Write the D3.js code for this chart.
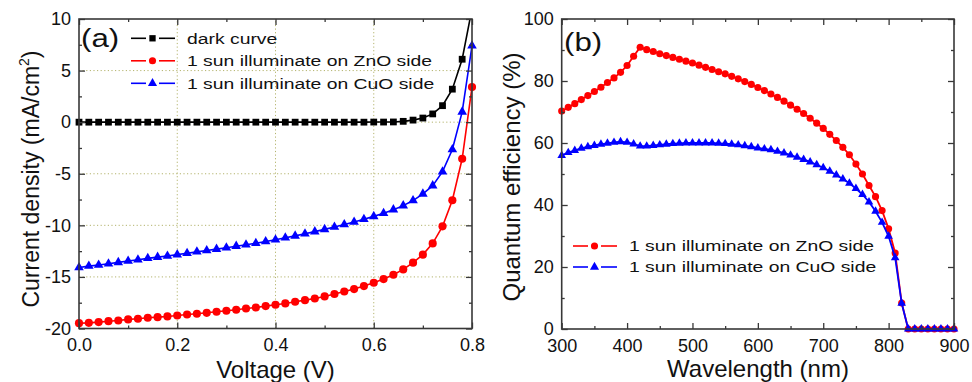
<!DOCTYPE html>
<html><head><meta charset="utf-8">
<script src="https://cdn.jsdelivr.net/npm/d3@7"></script>
<style>
body{margin:0;background:#fff}
svg{display:block;font-family:"Liberation Sans",Arial,sans-serif}
</style>
</head><body><svg id="c" width="972" height="382"></svg>
<script>
// ---------- Panel (a) data: J-V curves ----------
const voltage = [0.00,0.02,0.04,0.06,0.08,0.10,0.12,0.14,0.16,0.18,0.20,0.22,0.24,0.26,0.28,0.30,0.32,0.34,0.36,0.38,0.40,
  0.42,0.44,0.46,0.48,0.50,0.52,0.54,0.56,0.58,0.60,0.62,0.64,0.66,0.68,0.70,0.72,0.74,0.76,0.78,0.80];
const darkCurrent = [0,0,0,0,0,0,0,0,0,0,0,0,0,0,0,0,0,0,0,0,0,
  0,0,0,0,0,0,0,0,0,0.01,0.01,0.02,0.08,0.2,0.4,0.8,1.6,3.2,6.1,11.0];
const znoCurrent = [-19.48,-19.45,-19.38,-19.29,-19.22,-19.12,-19.06,-18.96,-18.90,-18.83,-18.74,-18.64,-18.57,-18.48,-18.38,-18.28,
  -18.18,-18.06,-17.96,-17.83,-17.70,-17.57,-17.41,-17.25,-17.09,-16.89,-16.66,-16.41,-16.18,-15.89,-15.56,-15.21,-14.79,-14.27,
  -13.62,-12.84,-11.75,-10.10,-7.57,-3.55,3.40];
const cuoCurrent = [-14.08,-13.95,-13.84,-13.72,-13.59,-13.46,-13.33,-13.20,-13.08,-12.97,-12.84,-12.70,-12.57,-12.44,-12.31,-12.17,
  -12.02,-11.88,-11.73,-11.57,-11.40,-11.21,-11.02,-10.82,-10.61,-10.39,-10.16,-9.92,-9.67,-9.41,-9.13,-8.83,-8.48,-8.09,
  -7.60,-6.95,-6.15,-4.80,-2.65,1.00,7.40];
const voltageTicks = [0,0.2,0.4,0.6,0.8];
const voltageMinor = [0.1,0.3,0.5,0.7];
const currentTicks = [-20,-15,-10,-5,0,5,10];
const currentMinor = [-17.5,-12.5,-7.5,-2.5,2.5,7.5];
const legendA = ["dark curve","1 sun illuminate on ZnO side","1 sun illuminate on CuO side"];

// ---------- Panel (b) data: quantum efficiency ----------
const wavelength = [300,310,320,330,340,350,360,370,380,390,400,410,420,430,440,450,460,470,480,490,500,510,520,530,540,550,
  560,570,580,590,600,610,620,630,640,650,660,670,680,690,700,710,720,730,740,750,760,770,780,790,800,810,820,830,840,850,
  860,870,880,890,900];
const znoQE = [70.3,71.5,72.7,74.0,75.3,76.6,78.0,79.5,81.0,82.8,85.0,88.0,90.9,90.1,89.5,88.8,88.2,87.6,87.0,86.4,
  85.8,85.1,84.4,83.7,83.0,82.3,81.5,80.7,79.8,78.9,77.9,76.9,75.8,74.7,73.5,72.2,70.9,69.5,68.0,66.4,
  64.7,62.8,60.8,58.6,56.2,53.2,50.0,46.3,42.7,38.2,32.3,24.5,8.4,0,0,0,0,0,0,0,0];
const cuoQE = [56.0,56.9,57.6,58.3,58.8,59.2,59.6,59.9,60.2,60.4,60.2,59.7,59.0,59.0,59.2,59.4,59.6,59.8,59.9,60.0,
  60.0,60.0,60.0,60.0,59.9,59.8,59.6,59.4,59.1,58.8,58.4,58.1,57.8,57.3,56.8,56.1,55.4,54.7,53.9,53.0,
  52.0,50.9,49.7,48.4,47.0,45.3,43.4,41.0,38.0,34.4,29.9,23.0,8.3,0,0,0,0,0,0,0,0];
const wavelengthTicks = [300,400,500,600,700,800,900];
const wavelengthMinor = [350,450,550,650,750,850];
const qeTicks = [0,20,40,60,80,100];
const qeMinor = [10,30,50,70,90];
const legendB = ["1 sun illuminate on ZnO side","1 sun illuminate on CuO side"];

const svg = d3.select("#c");
const FRAME = "#383838";

function drawAxes(g, x, y, xt, xm, yt, ym, fx, fy) {
  const [x0,x1] = x.range(), [y0,y1] = y.range();
  const style = sel => { sel.select(".domain").remove();
    sel.selectAll("line").attr("stroke",FRAME).attr("stroke-width",1.3);
    sel.selectAll("text").attr("font-size",18).attr("fill","#111").attr("font-family","'Liberation Sans',Arial,sans-serif"); };
  g.append("g").attr("transform",`translate(0,${y0})`).call(d3.axisBottom(x).tickValues(xt).tickSize(-6).tickPadding(10).tickFormat(fx)).call(style);
  g.append("g").attr("transform",`translate(0,${y0})`).call(d3.axisBottom(x).tickValues(xm).tickSize(-3).tickFormat("")).call(style);
  g.append("g").attr("transform",`translate(0,${y1})`).call(d3.axisTop(x).tickValues(xt).tickSize(-6).tickFormat("")).call(style);
  g.append("g").attr("transform",`translate(0,${y1})`).call(d3.axisTop(x).tickValues(xm).tickSize(-3).tickFormat("")).call(style);
  g.append("g").attr("transform",`translate(${x0},0)`).call(d3.axisLeft(y).tickValues(yt).tickSize(-6).tickPadding(8).tickFormat(fy)).call(style);
  g.append("g").attr("transform",`translate(${x0},0)`).call(d3.axisLeft(y).tickValues(ym).tickSize(-3).tickFormat("")).call(style);
  g.append("g").attr("transform",`translate(${x1},0)`).call(d3.axisRight(y).tickValues(yt).tickSize(-6).tickFormat("")).call(style);
  g.append("g").attr("transform",`translate(${x1},0)`).call(d3.axisRight(y).tickValues(ym).tickSize(-3).tickFormat("")).call(style);
  g.append("rect").attr("x",x0).attr("y",y1).attr("width",x1-x0).attr("height",y0-y1)
    .attr("fill","none").attr("stroke",FRAME).attr("stroke-width",1.6);
}

function series(g, x, y, xs, ys, color, sym, size, clipId, lw) {
  const pts = xs.map((v,i)=>[v,ys[i]]);
  g.append("path").datum(pts).attr("clip-path",`url(#${clipId})`)
    .attr("d", d3.line().x(d=>x(d[0])).y(d=>y(d[1])))
    .attr("fill","none").attr("stroke",color).attr("stroke-width",lw);
  const [lo,hi] = y.domain();
  g.selectAll(null).data(pts.filter(d=>d[1]>=lo && d[1]<=hi)).enter().append("path")
    .attr("transform",d=>`translate(${x(d[0])},${y(d[1])})`)
    .attr("d", d3.symbol().type(sym).size(size)).attr("fill",color);
}

function legendRow(g, x0, cy, color, sym, size, label, scaleX) {
  g.append("line").attr("x1",x0).attr("x2",x0+15).attr("y1",cy).attr("y2",cy).attr("stroke",color).attr("stroke-width",1.6);
  g.append("line").attr("x1",x0+28).attr("x2",x0+44).attr("y1",cy).attr("y2",cy).attr("stroke",color).attr("stroke-width",1.6);
  g.append("path").attr("transform",`translate(${x0+21.5},${cy})`).attr("d",d3.symbol().type(sym).size(size)).attr("fill",color);
  g.append("text").attr("transform",`translate(${x0+56},${cy}) scale(${scaleX},1)`).attr("dy","0.35em")
    .attr("font-size",15).attr("fill","#111").text(label);
}

// ---------- Panel (a) ----------
const xA = d3.scaleLinear([0,0.8],[79,472]);
const yA = d3.scaleLinear([-20,10],[328.5,19]);
const defs = svg.append("defs");
defs.append("clipPath").attr("id","clipA").append("rect").attr("x",60).attr("y",19).attr("width",430).attr("height",310);
defs.append("clipPath").attr("id","clipB").append("rect").attr("x",545).attr("y",19).attr("width",425).attr("height",310);

const gA = svg.append("g");
// grid
gA.selectAll(null).data(voltageTicks.filter(v=>v>0 && v<0.8)).enter().append("line")
  .attr("x1",d=>xA(d)).attr("x2",d=>xA(d)).attr("y1",yA(-20)).attr("y2",yA(10))
  .attr("stroke","#b4b46e").attr("stroke-width",1).attr("stroke-dasharray","1.2,2.4");
gA.selectAll(null).data(currentTicks.filter(v=>v>-20 && v<10)).enter().append("line")
  .attr("y1",d=>yA(d)).attr("y2",d=>yA(d)).attr("x1",xA(0)).attr("x2",xA(0.8))
  .attr("stroke","#b4b46e").attr("stroke-width",1).attr("stroke-dasharray","1.2,2.4");

series(gA, xA, yA, voltage, darkCurrent, "#000", d3.symbolSquare, 46, "clipA", 1.6);
series(gA, xA, yA, voltage, znoCurrent, "#ff0000", d3.symbolCircle, 52, "clipA", 1.6);
series(gA, xA, yA, voltage, cuoCurrent, "#0000ff", d3.symbolTriangle, 40, "clipA", 1.6);
drawAxes(gA, xA, yA, voltageTicks, voltageMinor, currentTicks, currentMinor, d3.format(".1f"), d=>String(d));

gA.append("text").attr("transform","translate(81,47) scale(1.2,1)").attr("font-size",26).attr("fill","#111").text("(a)");
legendRow(gA, 131, 38.3, "#000", d3.symbolSquare, 40, legendA[0], 1.29);
legendRow(gA, 131, 60.8, "#ff0000", d3.symbolCircle, 40, legendA[1], 1.29);
legendRow(gA, 131, 83.3, "#0000ff", d3.symbolTriangle, 36, legendA[2], 1.29);

gA.append("text").attr("text-anchor","middle").attr("x",275.5).attr("y",378).attr("font-size",24).attr("fill","#111").text("Voltage (V)");
const tA = gA.append("text").attr("transform","translate(31,179) rotate(-90)").attr("text-anchor","middle").attr("dy","0.35em")
  .attr("font-size",23).attr("fill","#111");
tA.append("tspan").text("Current density (mA/cm");
tA.append("tspan").attr("font-size",14).attr("dy",-10).text("2");
tA.append("tspan").attr("dy",10).text(")");

// ---------- Panel (b) ----------
const xB = d3.scaleLinear([300,900],[561.7,954]);
const yB = d3.scaleLinear([0,100],[329,19]);
const gB = svg.append("g");
series(gB, xB, yB, wavelength, znoQE, "#ff0000", d3.symbolCircle, 40, "clipB", 1.8);
series(gB, xB, yB, wavelength, cuoQE, "#0000ff", d3.symbolTriangle, 32, "clipB", 1.8);
drawAxes(gB, xB, yB, wavelengthTicks, wavelengthMinor, qeTicks, qeMinor, d=>String(d), d=>String(d));

gB.append("text").attr("transform","translate(564,51) scale(1.2,1)").attr("font-size",26).attr("fill","#111").text("(b)");
legendRow(gB, 573, 246, "#ff0000", d3.symbolCircle, 40, legendB[0], 1.29);
legendRow(gB, 573, 267, "#0000ff", d3.symbolTriangle, 36, legendB[1], 1.29);

gB.append("text").attr("text-anchor","middle").attr("x",758).attr("y",377).attr("font-size",24).attr("fill","#111").text("Wavelength (nm)");
gB.append("text").attr("transform","translate(512,177) rotate(-90)").attr("text-anchor","middle").attr("dy","0.35em")
  .attr("font-size",24).attr("fill","#111").text("Quantum efficiency (%)");
</script>
</body></html>
